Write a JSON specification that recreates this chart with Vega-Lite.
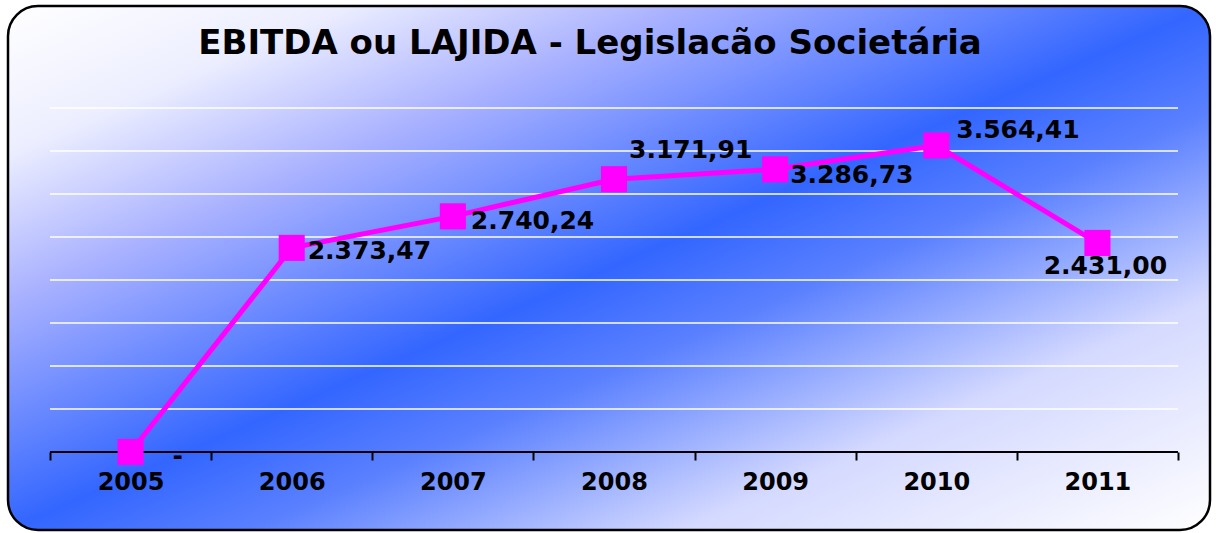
{
  "$schema": "https://vega.github.io/schema/vega-lite/v6.json",
  "width": 1202,
  "height": 524,
  "autosize": {"type": "none"},
  "padding": {"left": 8, "top": 6, "right": 6, "bottom": 3},
  "background": "#ffffff",
  "title": {
    "text": "EBITDA ou LAJIDA - Legislacão Societária",
    "font": "DejaVu Sans",
    "fontWeight": "bold",
    "fontSize": 34,
    "color": "#000000",
    "anchor": "middle",
    "baseline": "alphabetic",
    "offset": -82,
    "dx": -19
  },
  "config": {
    "view": {
      "fill": {
        "gradient": "linear",
        "x1": 0, "y1": 0, "x2": 1, "y2": 1,
        "stops": [
          {"offset": 0, "color": "#ffffff"},
          {"offset": 0.14, "color": "#eceeff"},
          {"offset": 0.28, "color": "#aab2ff"},
          {"offset": 0.5, "color": "#3366ff"},
          {"offset": 0.6, "color": "#5a80ff"},
          {"offset": 0.78, "color": "#d4d9ff"},
          {"offset": 1, "color": "#ffffff"}
        ]
      },
      "stroke": "#000000",
      "strokeWidth": 2.5,
      "cornerRadius": 30
    }
  },
  "data": {
    "values": [
      {"ano": 2005, "valor": 0, "label": "-"},
      {"ano": 2006, "valor": 2373.47, "label": "2.373,47"},
      {"ano": 2007, "valor": 2740.24, "label": "2.740,24"},
      {"ano": 2008, "valor": 3171.91, "label": "3.171,91"},
      {"ano": 2009, "valor": 3286.73, "label": "3.286,73"},
      {"ano": 2010, "valor": 3564.41, "label": "3.564,41"},
      {"ano": 2011, "valor": 2431.00, "label": "2.431,00"}
    ]
  },
  "encoding": {
    "x": {
      "field": "ano",
      "type": "quantitative",
      "scale": {"domain": [2004.2394, 2011.6987], "nice": false, "zero": false},
      "axis": {
        "orient": "bottom",
        "offset": -78,
        "title": null,
        "domain": false,
        "grid": false,
        "values": [2004.5, 2005.5, 2006.5, 2007.5, 2008.5, 2009.5, 2010.5, 2011.5],
        "labelExpr": "datum.value < 2011 ? format(datum.value + 0.5, 'd') : ''",
        "labelOffset": 80.57,
        "labelOverlap": false,
        "labelFlush": false,
        "labelBound": false,
        "labelFont": "DejaVu Sans",
        "labelFontWeight": "bold",
        "labelFontSize": 24,
        "labelColor": "#000000",
        "labelPadding": 10,
        "ticks": true,
        "tickSize": 8,
        "tickWidth": 2,
        "tickColor": "#000000"
      }
    },
    "y": {
      "field": "valor",
      "type": "quantitative",
      "scale": {"domain": [-907, 5186], "nice": false, "zero": false},
      "axis": null
    }
  },
  "layer": [
    {
      "data": {"values": [
        {"g": 500, "von": 2004.5, "bis": 2011.5},
        {"g": 1000, "von": 2004.5, "bis": 2011.5},
        {"g": 1500, "von": 2004.5, "bis": 2011.5},
        {"g": 2000, "von": 2004.5, "bis": 2011.5},
        {"g": 2500, "von": 2004.5, "bis": 2011.5},
        {"g": 3000, "von": 2004.5, "bis": 2011.5},
        {"g": 3500, "von": 2004.5, "bis": 2011.5},
        {"g": 4000, "von": 2004.5, "bis": 2011.5}
      ]},
      "mark": {"type": "rule", "color": "#ffffff", "strokeWidth": 1.5},
      "encoding": {
        "x": {"field": "von", "type": "quantitative"},
        "x2": {"field": "bis"},
        "y": {"field": "g", "type": "quantitative"}
      }
    },
    {
      "data": {"values": [{"g": 0, "von": 2004.5, "bis": 2011.5}]},
      "mark": {"type": "rule", "color": "#000000", "strokeWidth": 2},
      "encoding": {
        "x": {"field": "von", "type": "quantitative"},
        "x2": {"field": "bis"},
        "y": {"field": "g", "type": "quantitative"}
      }
    },
    {
      "mark": {"type": "line", "color": "#ff00ff", "strokeWidth": 5}
    },
    {
      "mark": {"type": "point", "shape": "square", "filled": true, "opacity": 1, "color": "#ff00ff", "size": 680}
    },
    {
      "transform": [{"filter": {"field": "ano", "oneOf": [2006]}}],
      "mark": {"type": "text", "align": "left", "baseline": "middle", "dx": 16, "dy": 3, "font": "DejaVu Sans", "fontWeight": "bold", "fontSize": 25, "color": "#000000"},
      "encoding": {"text": {"field": "label"}}
    },
    {
      "transform": [{"filter": {"field": "ano", "oneOf": [2007]}}],
      "mark": {"type": "text", "align": "left", "baseline": "middle", "dx": 18, "dy": 5, "font": "DejaVu Sans", "fontWeight": "bold", "fontSize": 25, "color": "#000000"},
      "encoding": {"text": {"field": "label"}}
    },
    {
      "transform": [{"filter": {"field": "ano", "oneOf": [2008]}}],
      "mark": {"type": "text", "align": "left", "baseline": "middle", "dx": 15, "dy": -29, "font": "DejaVu Sans", "fontWeight": "bold", "fontSize": 25, "color": "#000000"},
      "encoding": {"text": {"field": "label"}}
    },
    {
      "transform": [{"filter": {"field": "ano", "oneOf": [2009]}}],
      "mark": {"type": "text", "align": "left", "baseline": "middle", "dx": 15, "dy": 6, "font": "DejaVu Sans", "fontWeight": "bold", "fontSize": 25, "color": "#000000"},
      "encoding": {"text": {"field": "label"}}
    },
    {
      "transform": [{"filter": {"field": "ano", "oneOf": [2010]}}],
      "mark": {"type": "text", "align": "left", "baseline": "middle", "dx": 20, "dy": -15, "font": "DejaVu Sans", "fontWeight": "bold", "fontSize": 25, "color": "#000000"},
      "encoding": {"text": {"field": "label"}}
    },
    {
      "transform": [{"filter": {"field": "ano", "oneOf": [2011]}}],
      "mark": {"type": "text", "align": "center", "baseline": "middle", "dx": 8, "dy": 23, "font": "DejaVu Sans", "fontWeight": "bold", "fontSize": 25, "color": "#000000"},
      "encoding": {"text": {"field": "label"}}
    },
    {
      "transform": [{"filter": {"field": "ano", "oneOf": [2005]}}],
      "mark": {"type": "text", "align": "left", "baseline": "middle", "dx": 42, "dy": 4, "font": "DejaVu Sans", "fontWeight": "bold", "fontSize": 25, "color": "#000000"},
      "encoding": {"text": {"field": "label"}}
    }
  ]
}
